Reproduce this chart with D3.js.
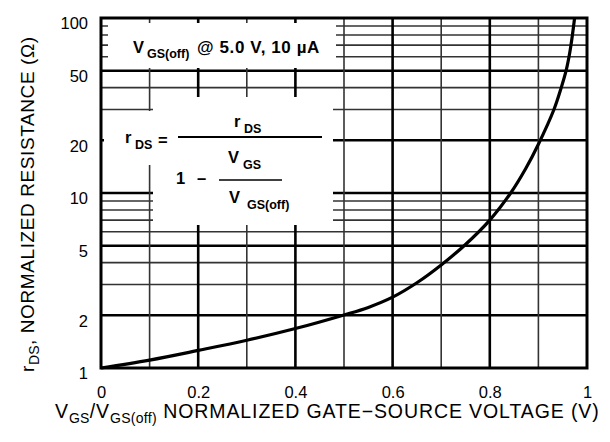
<!DOCTYPE html>
<html>
<head>
<meta charset="utf-8">
<script src="https://cdn.jsdelivr.net/npm/d3@7"></script>
<style>
  html, body { margin: 0; padding: 0; background: #fff; }
  svg { display: block; }
  text { font-family: "Liberation Sans", Arial, Helvetica, sans-serif; fill: #000; }
</style>
</head>
<body>
<svg id="chart" width="610" height="442"></svg>
<script>
// ---- data ----
const ratio = [0, 0.1, 0.2, 0.3, 0.4, 0.5, 0.55, 0.6, 0.65, 0.7, 0.75, 0.8, 0.843, 0.874, 0.9, 0.932, 0.947, 0.957, 0.963, 0.967, 0.970, 0.9745];
const rNorm = [1, 1.11, 1.26, 1.44, 1.68, 2.01, 2.22, 2.54, 3.07, 3.88, 5.08, 7.0, 10, 13.8, 19, 30, 40, 50, 60, 70, 80, 100];
const xTicks = [0, 0.2, 0.4, 0.6, 0.8, 1];
const xTickLabels = ["0", "0.2", "0.4", "0.6", "0.8", "1"];
const xGrid = [0.1, 0.2, 0.3, 0.4, 0.5, 0.6, 0.7, 0.8, 0.9];
const xGridMajor = [0.2, 0.4, 0.6, 0.8];
const yTicks = [1, 2, 5, 10, 20, 50, 100];
const yTickLabels = ["1", "2", "5", "10", "20", "50", "100"];
const yGrid = [2, 3, 4, 5, 6, 7, 8, 9, 10, 20, 30, 40, 50, 60, 70, 80, 90];

const FONT = "Liberation Sans, Arial, Helvetica, sans-serif";
const svg = d3.select("#chart");
const L = 101, R = 587, T = 18, B = 368;
const x = d3.scaleLinear().domain([0, 1]).range([L, R]);
const y = d3.scaleLog().domain([1, 100]).range([B, T]);

// grid
const g = svg.append("g");
g.selectAll("line.hg").data(yGrid).join("line")
  .attr("x1", L).attr("x2", R)
  .attr("y1", d => y(d)).attr("y2", d => y(d))
  .attr("stroke", d => yTicks.includes(d) ? "#000" : "#333")
  .attr("stroke-width", d => yTicks.includes(d) ? 2.6 : 1.6);
g.selectAll("line.vg").data(xGrid).join("line")
  .attr("y1", T).attr("y2", B)
  .attr("x1", d => x(d)).attr("x2", d => x(d))
  .attr("stroke", d => xGridMajor.includes(d) ? "#000" : "#333")
  .attr("stroke-width", d => xGridMajor.includes(d) ? 2.6 : 1.6);

// annotation boxes (white)
const boxes = [
  [108, 23, 336, 68],
  [153, 97, 333, 225],
  [104, 111, 155, 165]
];
svg.selectAll("rect.box").data(boxes).join("rect")
  .attr("x", d => d[0]).attr("y", d => d[1])
  .attr("width", d => d[2] - d[0]).attr("height", d => d[3] - d[1])
  .attr("fill", "#fff");

// frame
svg.append("rect").attr("x", L).attr("y", T).attr("width", R - L).attr("height", B - T)
  .attr("fill", "none").attr("stroke", "#000").attr("stroke-width", 3);

// curve
const pts = ratio.map((v, i) => [v, rNorm[i]]);
svg.append("path").datum(pts)
  .attr("fill", "none").attr("stroke", "#000").attr("stroke-width", 3.2)
  .attr("stroke-linejoin", "round")
  .attr("d", d3.line().x(d => x(d[0])).y(d => y(d[1])).curve(d3.curveCatmullRom.alpha(0.5)));

// axes (labels only)
const xAxis = d3.axisBottom(x).tickValues(xTicks).tickFormat((d, i) => xTickLabels[i]).tickSize(0).tickPadding(18);
const xa = svg.append("g").attr("transform", `translate(0,${B})`).call(xAxis);
xa.select(".domain").remove();
xa.selectAll("text").attr("font-size", 16.5).attr("font-family", FONT).attr("fill", "#000");

const yAxis = d3.axisLeft(y).tickValues(yTicks).tickFormat((d, i) => yTickLabels[i]).tickSize(0).tickPadding(13);
const ya = svg.append("g").attr("transform", `translate(${L},0)`).call(yAxis);
ya.select(".domain").remove();
ya.selectAll("text").attr("font-size", 16.5).attr("font-family", FONT).attr("fill", "#000").attr("dy", "0.66em");

// axis titles
const xt = svg.append("text").attr("x", 55).attr("y", 418).attr("font-size", 19.5).attr("letter-spacing", 0.9);
xt.append("tspan").text("V");
xt.append("tspan").attr("font-size", 14).attr("dy", 5).attr("letter-spacing", 0.3).text("GS");
xt.append("tspan").attr("dy", -5).text("/V");
xt.append("tspan").attr("font-size", 14).attr("dy", 5).attr("letter-spacing", 0.3).text("GS(off)");
xt.append("tspan").attr("dy", -5).text(" NORMALIZED GATE\u2212SOURCE VOLTAGE (V)");

const yt = svg.append("text").attr("transform", "translate(34,372) rotate(-90)").attr("font-size", 19).attr("letter-spacing", 0.6);
yt.append("tspan").text("r");
yt.append("tspan").attr("font-size", 14).attr("dy", 5).attr("letter-spacing", 0.3).text("DS");
yt.append("tspan").attr("dy", -5).text(", NORMALIZED RESISTANCE (\u03A9)");

// annotation 1
const BF = 16.5, SF = 12.5;
svg.append("text").attr("x", 133).attr("y", 53).attr("font-size", BF).attr("font-weight", "bold").text("V");
svg.append("text").attr("x", 147).attr("y", 58).attr("font-size", SF).attr("font-weight", "bold").text("GS(off)");
svg.append("text").attr("x", 197).attr("y", 53).attr("font-size", 17).attr("font-weight", "bold").attr("letter-spacing", 0.6).text("@ 5.0 V, 10 \u00B5A");

// formula
function sub(main, subt, xx, xs, yy) {
  svg.append("text").attr("x", xx).attr("y", yy).attr("font-size", BF).attr("font-weight", "bold").text(main);
  svg.append("text").attr("x", xs).attr("y", yy + 6).attr("font-size", SF).attr("font-weight", "bold").text(subt);
}
sub("r", "DS", 125, 135, 143);
svg.append("text").attr("x", 158).attr("y", 146).attr("font-size", BF).attr("font-weight", "bold").text("=");
svg.append("line").attr("x1", 178).attr("x2", 322).attr("y1", 137).attr("y2", 137).attr("stroke", "#000").attr("stroke-width", 2);
sub("r", "DS", 234, 244, 127);
svg.append("text").attr("x", 176).attr("y", 184).attr("font-size", BF).attr("font-weight", "bold").text("1");
svg.append("text").attr("x", 197).attr("y", 184).attr("font-size", BF).attr("font-weight", "bold").text("\u2013");
svg.append("line").attr("x1", 219).attr("x2", 282).attr("y1", 180).attr("y2", 180).attr("stroke", "#000").attr("stroke-width", 1.6);
sub("V", "GS", 228, 243, 163);
sub("V", "GS(off)", 229, 247, 203);
</script>
</body>
</html>
